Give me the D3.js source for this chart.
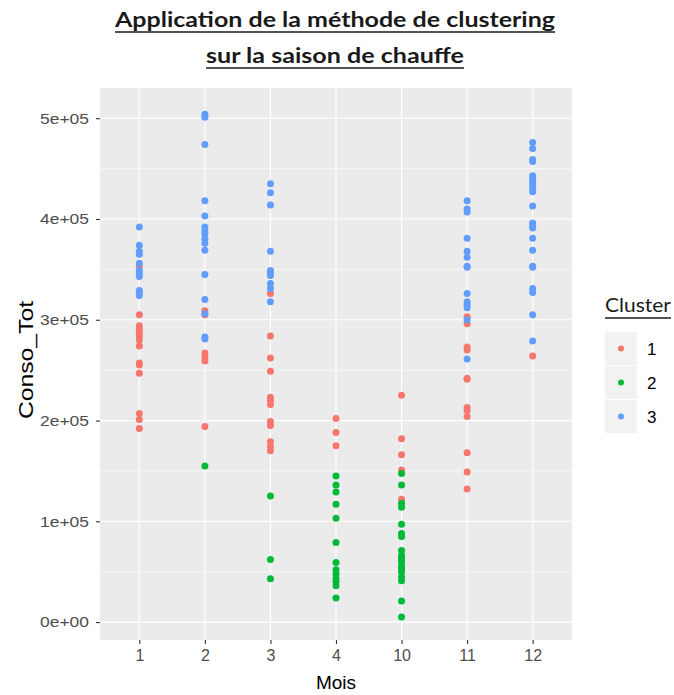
<!DOCTYPE html>
<html><head><meta charset="utf-8">
<script src="https://cdn.jsdelivr.net/npm/d3@7"></script>
<style>body{margin:0;background:#fff}</style>
</head><body>
<svg id="c" width="674" height="695"></svg>
<script>
const months = ["1","2","3","4","10","11","12"];
const clusters = ["1","2","3"];
const colors = ["#F8766D","#00BA38","#619CFF"];
const yTicks = [0,100000,200000,300000,400000,500000];
const yTickLabels = ["0e+00","1e+05","2e+05","3e+05","4e+05","5e+05"];
// values in units of 1e5, per month per cluster
const m1c1 = [3.53,3.05,2.94,2.90,2.87,2.84,2.80,2.74,2.57,2.55,2.47,2.07,2.01,1.92];
const m1c3 = [3.92,3.74,3.68,3.65,3.56,3.49,3.46,3.43,3.29,3.27,3.24];
const m2c1 = [3.09,3.05,2.67,2.63,2.59,1.94];
const m2c2 = [1.55];
const m2c3 = [5.04,5.01,4.74,4.18,4.03,3.92,3.88,3.85,3.80,3.76,3.69,3.45,3.20,3.06,2.83,2.81];
const m3c1 = [3.26,2.84,2.62,2.49,2.23,2.20,2.16,1.99,1.95,1.79,1.74,1.70];
const m3c2 = [1.25,0.62,0.43];
const m3c3 = [4.35,4.26,4.14,3.68,3.49,3.47,3.44,3.36,3.31,3.18];
const m4c1 = [2.02,1.88,1.75];
const m4c2 = [1.45,1.36,1.29,1.17,1.03,0.79,0.59,0.52,0.48,0.43,0.40,0.36,0.24];
const m10c1 = [2.25,1.82,1.66,1.51,1.22];
const m10c2 = [1.475,1.36,1.18,1.14,0.97,0.88,0.85,0.71,0.66,0.63,0.60,0.56,0.53,0.50,0.45,0.41,0.21,0.05];
const m11c1 = [3.03,2.96,2.73,2.70,2.42,2.41,2.13,2.10,2.04,1.68,1.49,1.32];
const m11c3 = [4.18,4.10,4.07,3.81,3.68,3.62,3.53,3.52,3.26,3.18,3.15,3.12,3.00,2.61];
const m12c1 = [2.64];
const m12c3 = [4.76,4.70,4.59,4.57,4.43,4.40,4.37,4.34,4.30,4.27,4.13,3.96,3.93,3.91,3.81,3.69,3.53,3.52,3.31,3.27,3.05,2.79];

const groups = [
  ["1","1",m1c1],["1","3",m1c3],
  ["2","1",m2c1],["2","2",m2c2],["2","3",m2c3],
  ["3","1",m3c1],["3","2",m3c2],["3","3",m3c3],
  ["4","1",m4c1],["4","2",m4c2],
  ["10","1",m10c1],["10","2",m10c2],
  ["11","1",m11c1],["11","3",m11c3],
  ["12","1",m12c1],["12","3",m12c3]
];
const data = [];
groups.forEach(([m,c,vals]) => vals.forEach(v => data.push({mois:m, cluster:c, val:v*1e5})));

const svg = d3.select("#c");
const L = 100, R = 572, T = 88, B = 640;
const x = d3.scalePoint().domain(months).range([L, R]).padding(0.6);
const y = d3.scaleLinear().domain([-17800, 530000]).range([B, T]);
const col = d3.scaleOrdinal().domain(clusters).range(colors);

svg.append("rect").attr("x",L).attr("y",T).attr("width",R-L).attr("height",B-T).attr("fill","#EBEBEB");
const minor = d3.range(50000, 550000, 100000);
svg.append("g").selectAll("line").data(minor).join("line")
  .attr("x1",L).attr("x2",R).attr("y1",d=>y(d)).attr("y2",d=>y(d))
  .attr("stroke","#fff").attr("stroke-width",0.6);
svg.append("g").selectAll("line").data(yTicks).join("line")
  .attr("x1",L).attr("x2",R).attr("y1",d=>y(d)).attr("y2",d=>y(d))
  .attr("stroke","#fff").attr("stroke-width",1.2);
svg.append("g").selectAll("line").data(months).join("line")
  .attr("x1",d=>x(d)).attr("x2",d=>x(d)).attr("y1",T).attr("y2",B)
  .attr("stroke","#fff").attr("stroke-width",1.2);

svg.append("g").selectAll("circle").data(data).join("circle")
  .attr("cx",d=>x(d.mois)).attr("cy",d=>y(d.val)).attr("r",3.5)
  .attr("fill",d=>col(d.cluster));

const fontAx = "'Liberation Sans', Arial, sans-serif";
const ya = d3.axisLeft(y).tickValues(yTicks).tickFormat((d,i)=>yTickLabels[i]).tickSize(4).tickPadding(7);
const gy = svg.append("g").attr("transform",`translate(${L},0)`).call(ya);
gy.select(".domain").remove();
gy.selectAll("line").attr("stroke","#333").attr("stroke-width",1.1);
gy.selectAll("text").attr("fill","#4D4D4D").style("font-family",fontAx).style("font-size","15px")
  .attr("textLength",49).attr("lengthAdjust","spacingAndGlyphs");

const xa = d3.axisBottom(x).tickSize(4).tickPadding(6);
const gx = svg.append("g").attr("transform",`translate(0,${B})`).call(xa);
gx.select(".domain").remove();
gx.selectAll("line").attr("stroke","#333").attr("stroke-width",1.1);
gx.selectAll("text").attr("fill","#4D4D4D").style("font-family",fontAx).style("font-size","16px");

svg.append("text").attr("x",(L+R)/2).attr("y",689).attr("text-anchor","middle")
  .style("font-family",fontAx).style("font-size","19px").attr("fill","#000").text("Mois");
svg.append("text").attr("transform",`translate(33,360) rotate(-90)`).attr("text-anchor","middle")
  .style("font-family",fontAx).style("font-size","20px").attr("fill","#000")
  .attr("textLength",118).attr("lengthAdjust","spacingAndGlyphs").text("Conso_Tot");

// title
const titleFont = "Lato, 'Open Sans', sans-serif";
const titleLines = ["Application de la méthode de clustering","sur la saison de chauffe"];
const titleLens = [440, 258];
const tY = [27, 63];
titleLines.forEach((t,i)=>{
  svg.append("text").attr("x",335).attr("y",tY[i]).attr("text-anchor","middle")
    .style("font-family",titleFont).style("font-size","20px").style("font-weight","bold")
    .attr("textLength",titleLens[i]).attr("lengthAdjust","spacingAndGlyphs")
    .attr("fill","#1a1a1a").text(t);
  svg.append("line").attr("x1",335-titleLens[i]/2).attr("x2",335+titleLens[i]/2)
    .attr("y1",tY[i]+5).attr("y2",tY[i]+5)
    .attr("stroke","#1a1a1a").attr("stroke-width",1.6);
});

// legend
const lg = svg.append("g");
lg.append("text").attr("x",605).attr("y",312)
  .style("font-family",titleFont).style("font-size","20px").attr("fill","#1a1a1a")
  .attr("textLength",66).attr("lengthAdjust","spacingAndGlyphs").text("Cluster");
lg.append("line").attr("x1",605).attr("x2",671).attr("y1",318).attr("y2",318)
  .attr("stroke","#1a1a1a").attr("stroke-width",1.4);
clusters.forEach((c,i)=>{
  const ky = 332 + i*34;
  lg.append("rect").attr("x",605).attr("y",ky).attr("width",32).attr("height",33).attr("fill","#F2F2F2");
  lg.append("circle").attr("cx",621).attr("cy",ky+16.5).attr("r",3).attr("fill",col(c));
  lg.append("text").attr("x",647).attr("y",ky+23).style("font-family",fontAx).style("font-size","17px")
    .attr("fill","#000").text(c);
});
</script>
</body></html>
